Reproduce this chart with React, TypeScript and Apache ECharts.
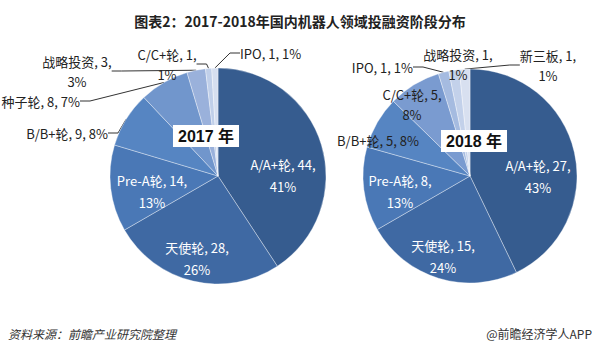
import React, { useEffect, useRef } from 'react';
import * as echarts from 'echarts';

const titleText = '图表2：2017-2018年国内机器人领域投融资阶段分布';
const sourceText = '资料来源：前瞻产业研究院整理';
const brandText = '@前瞻经济学人APP';
const yearLabels = ['2017 年', '2018 年'];

const names2017 = ['A/A+轮', '天使轮', 'Pre-A轮', 'B/B+轮', '种子轮', '战略投资', 'C/C+轮', 'IPO'];
const values2017 = [44, 28, 14, 9, 8, 3, 1, 1];
const pct2017 = [41, 26, 13, 8, 7, 3, 1, 1];
const names2018 = ['A/A+轮', '天使轮', 'Pre-A轮', 'B/B+轮', 'C/C+轮', 'IPO', '战略投资', '新三板'];
const values2018 = [27, 15, 8, 5, 5, 1, 1, 1];
const pct2018 = [43, 24, 13, 8, 8, 1, 1, 1];

const colors2017 = ['#365c8f', '#3f69a3', '#4a78b6', '#5685c2', '#7196cc', '#9ab1db', '#c0cfe9', '#d6dff0'];
const colors2018 = ['#365c8f', '#3f69a3', '#4a78b6', '#5685c2', '#7a9bd0', '#a5bbe0', '#c3d1ea', '#d8e0f0'];

// label layout (positions only)
const labelPos: [number, number, string][][] = [
  [[283, 175, 'center'], [197, 258, 'center'], [152, 191, 'center'], [108, 133, 'right'], [80, 101, 'right'], [77, 71, 'center'], [167, 64, 'center'], [240, 53, 'left']],
  [[538, 176, 'center'], [443, 256, 'center'], [400, 191, 'center'], [337, 140, 'left'], [412, 104, 'center'], [413, 67, 'right'], [458, 64, 'center'], [548, 65, 'center']],
];
const oneLine = [[3, 4, 7], [3, 5]];
const withLine = [[3, 4, 5, 6, 7], [5, 7]];
const insideCount = 3;

const FONT = '"Noto Sans CJK SC", "Noto Sans", sans-serif';

function buildData(names: string[], values: number[], colors: string[], si: number) {
  return names.map((n, i) => ({
    name: n,
    value: values[i],
    itemStyle: { color: colors[i] },
    label: { color: i < insideCount ? '#ffffff' : '#222222', lineHeight: i < insideCount ? 22 : 20 },
    labelLine: { show: withLine[si].includes(i) },
  }));
}

function makeFormatter(pcts: number[], si: number) {
  return (p: any) => {
    const sep = oneLine[si].includes(p.dataIndex) ? ' ' : '\n';
    return `${p.name}, ${p.value},${sep}${pcts[p.dataIndex]}%`;
  };
}

export default function App() {
  const ref = useRef<HTMLDivElement>(null);
  useEffect(() => {
    if (!ref.current) return;
    const chart = echarts.init(ref.current, undefined, { renderer: 'svg' });
    const seriesBase = (si: number, center: number[], radius: number, names: string[], values: number[], pcts: number[], colors: string[]) => ({
      type: 'pie',
      center,
      radius,
      startAngle: 90,
      clockwise: true,
      avoidLabelOverlap: false,
      minShowLabelAngle: 0,
      itemStyle: { borderColor: 'rgba(255,255,255,0.45)', borderWidth: 0.8 },
      label: {
        show: true,
        position: 'outside',
        formatter: makeFormatter(pcts, si),
        fontSize: 13,
        fontFamily: FONT,
        lineHeight: 22,
        align: 'center',
      },
      labelLine: { show: false, lineStyle: { color: '#333', width: 1 }, length: 10, length2: 10 },
      labelLayout: (p: any) => {
        const pos = labelPos[si][p.dataIndex];
        return { x: pos[0], y: pos[1], align: pos[2], verticalAlign: 'middle' };
      },
      emphasis: { disabled: true },
      data: buildData(names, values, colors, si),
    });
    chart.setOption({
      animation: false,
      backgroundColor: '#ffffff',
      title: {
        text: titleText,
        left: 'center',
        top: 9,
        textStyle: { fontSize: 14, fontWeight: 'bold', color: '#222', fontFamily: FONT },
      },
      series: [
        seriesBase(0, [218, 176], 108, names2017, values2017, pct2017, colors2017),
        seriesBase(1, [470, 176], 107, names2018, values2018, pct2018, colors2018),
      ],
      graphic: [
        {
          type: 'text', x: 206, y: 136, z: 100,
          style: { text: yearLabels[0], align: 'center', verticalAlign: 'middle', font: `bold 16px "Liberation Sans", ${FONT}`, fill: '#111', backgroundColor: '#ffffff', padding: [3, 5, 3, 5] },
        },
        {
          type: 'text', x: 474, y: 141, z: 100,
          style: { text: yearLabels[1], align: 'center', verticalAlign: 'middle', font: `bold 16px "Liberation Sans", ${FONT}`, fill: '#111', backgroundColor: '#ffffff', padding: [3, 5, 3, 5] },
        },
        {
          type: 'text', x: 8, y: 333,
          style: { text: sourceText, align: 'left', verticalAlign: 'middle', font: `italic 12px ${FONT}`, fill: '#333' },
        },
        {
          type: 'text', x: 592, y: 333,
          style: { text: brandText, align: 'right', verticalAlign: 'middle', font: `12px ${FONT}`, fill: '#333' },
        },
      ],
    });
    return () => chart.dispose();
  }, []);
  return <div ref={ref} style={{ width: 600, height: 351, position: 'fixed', left: 0, top: 0 }} />;
}
